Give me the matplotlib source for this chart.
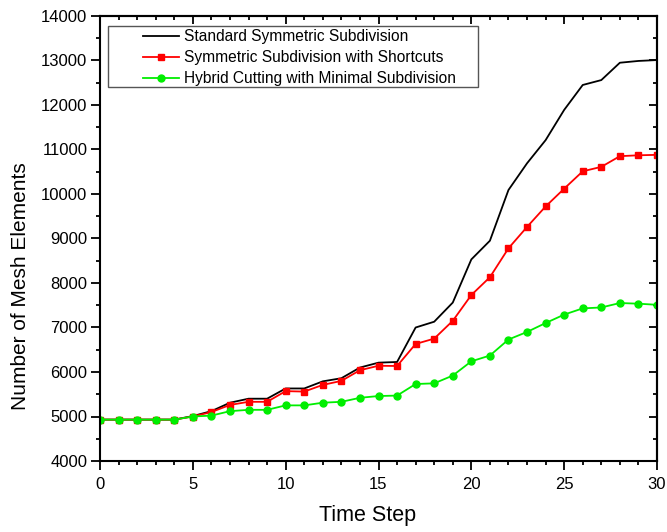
import matplotlib
matplotlib.use("Agg")
import matplotlib.pyplot as plt
from matplotlib.ticker import MultipleLocator
from matplotlib.patches import Rectangle

plt.rcParams['font.family'] = ['Liberation Sans', 'DejaVu Sans']

steps = list(range(31))
standard = [4930, 4930, 4930, 4930, 4930, 5010, 5120, 5310, 5400, 5400,
            5630, 5630, 5790, 5860, 6100, 6210, 6225, 7000, 7130, 7560,
            8530, 8950, 10090, 10690, 11210, 11890, 12450, 12560, 12950, 12990, 13010]
shortcuts = [4930, 4930, 4930, 4930, 4930, 5000, 5100, 5260, 5330, 5330,
             5570, 5560, 5710, 5800, 6040, 6140, 6135, 6630, 6750, 7150,
             7730, 8130, 8780, 9260, 9720, 10120, 10510, 10610, 10850, 10870, 10880]
hybrid = [4930, 4930, 4930, 4930, 4930, 5000, 5020, 5120, 5150, 5150,
          5250, 5250, 5310, 5330, 5420, 5460, 5470, 5730, 5745, 5920,
          6240, 6370, 6730, 6900, 7100, 7290, 7430, 7450, 7550, 7535, 7510]

W, H = 667, 532
fig = plt.figure(figsize=(W / 100, H / 100), dpi=100)
ax = fig.add_axes([100 / W, 1 - 461 / H, 557 / W, 445 / H])

ax.plot(steps, standard, color='black', lw=1.3, label='Standard Symmetric Subdivision')
ax.plot(steps, shortcuts, color='#ff0000', lw=1.3, marker='s', ms=4.8,
        label='Symmetric Subdivision with Shortcuts')
ax.plot(steps, hybrid, color='#00ee00', lw=1.3, marker='o', ms=5,
        label='Hybrid Cutting with Minimal Subdivision')

ax.set_xlim(0, 30)
ax.set_ylim(4000, 14000)
ax.xaxis.set_major_locator(MultipleLocator(5))
ax.xaxis.set_minor_locator(MultipleLocator(1))
ax.yaxis.set_major_locator(MultipleLocator(1000))
ax.yaxis.set_minor_locator(MultipleLocator(500))
ax.tick_params(which='both', direction='out', labelsize=12, width=1.3)
ax.tick_params(axis='x', pad=5)
ax.tick_params(axis='y', pad=2.5)
ax.tick_params(which='major', length=6.5)
ax.tick_params(which='minor', length=3)
for s in ax.spines.values():
    s.set_linewidth(1.5)

# mirrored inward ticks on top and right
top = ax.secondary_xaxis('top')
top.xaxis.set_major_locator(MultipleLocator(5))
top.xaxis.set_minor_locator(MultipleLocator(1))
top.tick_params(which='both', direction='in', labeltop=False, width=1.3)
top.tick_params(which='major', length=6)
top.tick_params(which='minor', length=3)
top.spines['top'].set_linewidth(1.5)
right = ax.secondary_yaxis('right')
right.yaxis.set_major_locator(MultipleLocator(1000))
right.yaxis.set_minor_locator(MultipleLocator(500))
right.tick_params(which='both', direction='in', labelright=False, width=1.3)
right.tick_params(which='major', length=6)
right.tick_params(which='minor', length=3)
right.spines['right'].set_linewidth(1.5)

ax.set_xlabel('Time Step', fontsize=15.5)
ax.xaxis.set_label_coords((368 - 100) / 557, (461 - 505) / 445)
ax.set_ylabel('Number of Mesh Elements', fontsize=15)
ax.yaxis.set_label_coords((30 - 100) / 557, (461 - 286) / 445)

leg = ax.legend(loc='upper left', fontsize=11.2, frameon=False,
                handlelength=2.3, handletextpad=0.35, borderpad=0,
                labelspacing=0.4, borderaxespad=0,
                bbox_to_anchor=(143 / W, 1 - 29 / H),
                bbox_transform=fig.transFigure)
fig.patches.append(Rectangle((108 / W, 1 - 87 / H), 370 / W, 61 / H,
                             transform=fig.transFigure, fill=False,
                             edgecolor='#555555', lw=1.0))

fig.savefig('out.png', dpi=100)
